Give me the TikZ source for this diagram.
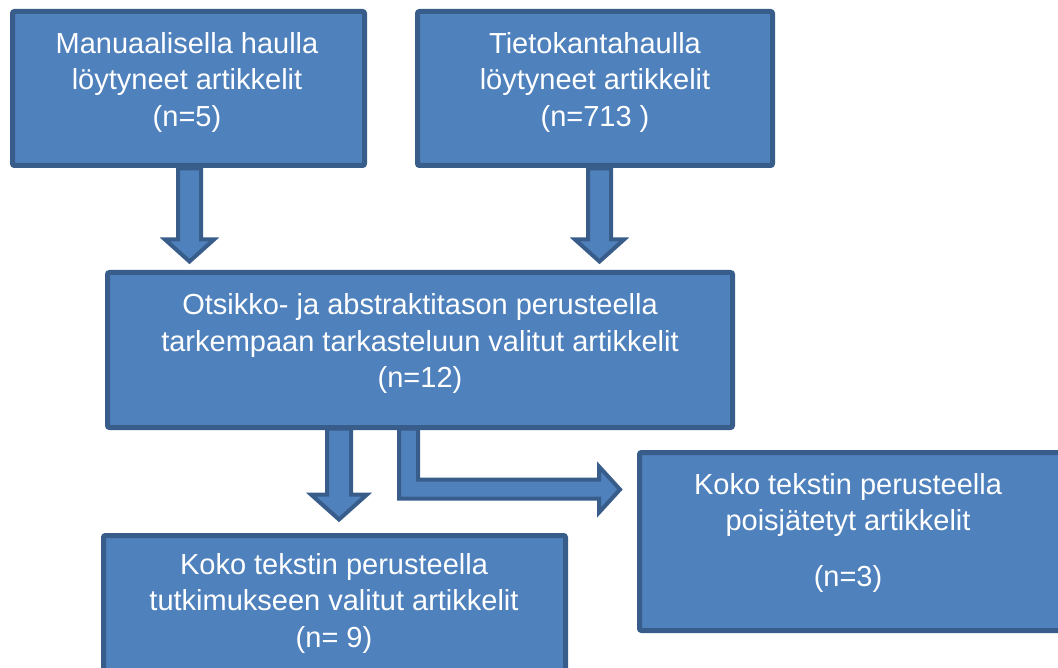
\documentclass[tikz,border=0pt]{standalone}
\usepackage{fontspec}
\setmainfont{Liberation Sans}
\usetikzlibrary{calc}
\definecolor{boxfill}{HTML}{4F81BD}
\definecolor{boxline}{HTML}{385D8A}
% down block arrow: #1 start coordinate, #2 shaft half width, #3 head half width, #4 shaft length, #5 head length
\newcommand\downblock[5]{%
  \draw[blk] (#1) ++(-#2,0) -- ++(0,#4) -- ++({-(#3-#2)},0) -- ++(#3,#5) -- ++(#3,-#5) -- ++({-(#3-#2)},0) -- ++(0,-#4) -- cycle;}
\begin{document}
\begin{tikzpicture}[x=1pt,y=-1pt,
  box/.style={draw=boxline, fill=boxfill, line width=5pt, rounded corners=2pt, inner sep=0pt},
  txt/.style={text=white, font=\fontsize{29}{36.5}\selectfont, align=center, inner sep=0pt},
  blk/.style={draw=boxline, fill=boxfill, line width=4pt, line join=miter}]
\useasboundingbox (0,0) rectangle (1058,668);
% boxes
\node[box, minimum width=352pt, minimum height=154pt] (b1) at (188.5,88.5) {};
\node[box, minimum width=355pt, minimum height=154pt] (b2) at (595,88.5) {};
\node[box, minimum width=625pt, minimum height=155pt] (b3) at (420,350) {};
\node[box, minimum width=462pt, minimum height=154.5pt] (b4) at (334.5,612.75) {};
\node[box, minimum width=425.5pt, minimum height=178pt] (b5) at (852.25,541.5) {};
% texts
\node[txt] (t1) at (187,82.7) {\strut Manuaalisella haulla\\löytyneet artikkelit\\(n=5)\strut};
\node[txt] (t2) at (595,82.7) {\strut Tietokantahaulla\\löytyneet artikkelit\\(n=713 )\strut};
\node[txt] (t3) at (420,344) {\strut Otsikko- ja abstraktitason perusteella\\tarkempaan tarkasteluun valitut artikkelit\\(n=12)\strut};
\node[txt] (t4) at (334,603.3) {\strut Koko tekstin perusteella\\tutkimukseen valitut artikkelit\\(n= 9)\strut};
\node[txt] (t5) at (848,532.7) {\strut Koko tekstin perusteella\\poisjätetyt artikkelit\\[19pt](n=3)\strut};
% block arrows
\coordinate (a1) at ($(b1.south)+(1,0.5)$);
\coordinate (a2) at ($(b2.south)+(4.5,0.5)$);
\coordinate (a3) at ($(b3.south)+(-81,-1.5)$);
\coordinate (a4) at ($(b3.south)+(-21,-1.5)$);
\downblock{a1}{11.5}{24.5}{71}{22}
\downblock{a2}{11.5}{24.5}{71}{22}
\downblock{a3}{12}{28}{66}{25}
\draw[blk] (a4) -- ++(0,70) -- ++(200,0) -- ++(0,14) -- ++(21,-23) -- ++(-21,-23) -- ++(0,13) -- ++(-181,0) -- ++(0,-51) -- cycle;
\end{tikzpicture}
\end{document}
